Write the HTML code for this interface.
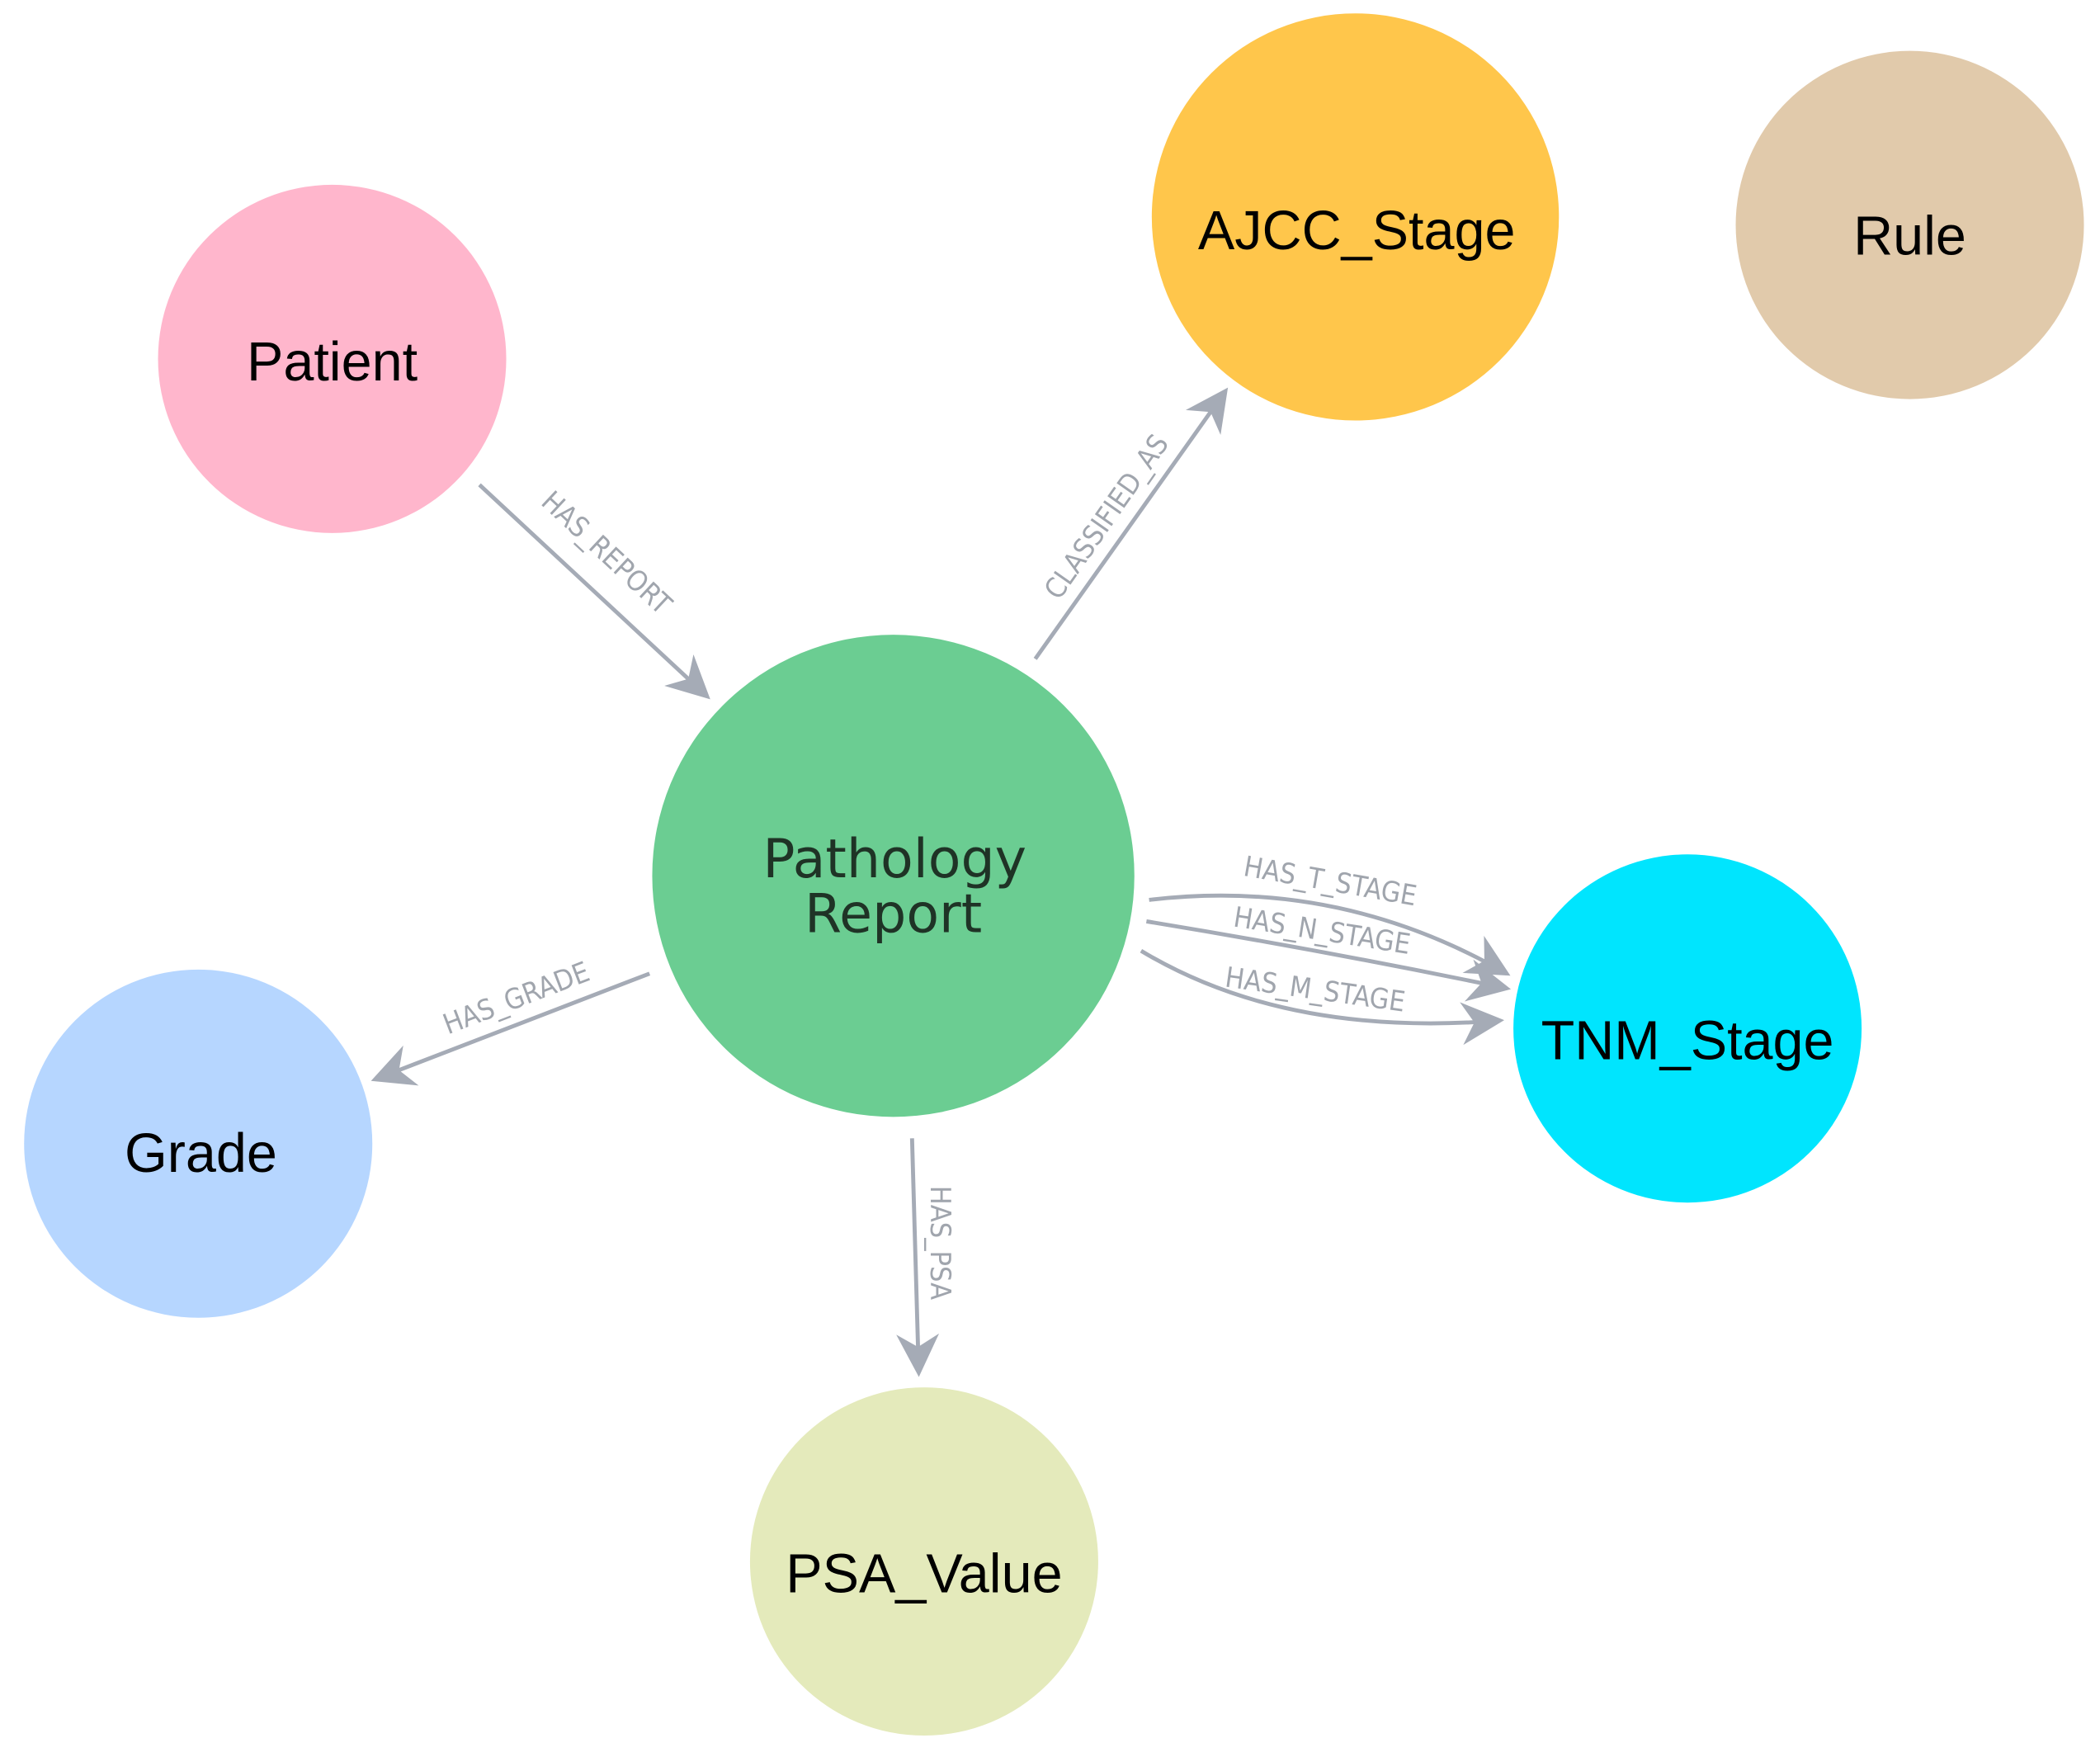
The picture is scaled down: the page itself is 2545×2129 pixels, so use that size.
<!DOCTYPE html>
<html><head><meta charset="utf-8"><style>html,body{margin:0;padding:0;background:#fff}svg{display:block}</style></head>
<body>
<svg width="2545" height="2129" viewBox="0 0 1568 1312" preserveAspectRatio="none" xmlns="http://www.w3.org/2000/svg">
<defs>
<marker id="b" viewBox="0 0 10 10" refX="9" refY="5" markerWidth="32" markerHeight="32" orient="auto" markerUnits="userSpaceOnUse">
<path d="M0,0 L10,5 L0,10 L3,5 z" fill="#a5abb6"/></marker>
</defs>
<g fill="none" stroke="#a5abb6" stroke-width="3">
<line x1="358" y1="362" x2="528" y2="520" marker-end="url(#b)"/>
<line x1="773" y1="492" x2="915" y2="292" marker-end="url(#b)"/>
<line x1="485" y1="727" x2="280" y2="806" marker-end="url(#b)"/>
<line x1="681" y1="850" x2="686" y2="1025" marker-end="url(#b)"/>
<path d="M858,672 Q1000,655 1125,727" marker-end="url(#b)"/>
<path d="M856,688 Q990,710 1125,738" marker-end="url(#b)"/>
<path d="M852,710 Q960,775 1120,762" marker-end="url(#b)"/>
</g>
<g fill="#a0a5ad" font-family="'DejaVu Sans Condensed','DejaVu Sans', sans-serif" font-size="21" text-anchor="middle">
<text transform="translate(448,418) rotate(43)">HAS_REPORT</text>
<text transform="translate(832,390) rotate(-55)">CLASSIFIED_AS</text>
<text transform="translate(388,752) rotate(-21)">HAS_GRADE</text>
<text transform="translate(695,928) rotate(90)">HAS_PSA</text>
<text transform="translate(992,665) rotate(10)">HAS_T_STAGE</text>
<text transform="translate(986,702) rotate(9)">HAS_N_STAGE</text>
<text transform="translate(981,746) rotate(8)">HAS_M_STAGE</text>
</g>
<circle cx="248" cy="268" r="130" fill="#ffb6cc"/>
<circle cx="1012" cy="162" r="152" fill="#ffc64b"/>
<circle cx="1426" cy="168" r="130" fill="#e1caab"/>
<circle cx="667" cy="654" r="180" fill="#6bcd92"/>
<circle cx="1260" cy="768" r="130" fill="#00e5fe"/>
<circle cx="148" cy="854" r="130" fill="#b6d6ff"/>
<circle cx="690" cy="1166" r="130" fill="#e4eabb"/>
<g fill="#000" font-family="'Liberation Sans', sans-serif" font-size="41" text-anchor="middle">
<text x="248" y="284">Patient</text>
<text x="1013" y="186">AJCC_Stage</text>
<text x="1426" y="190">Rule</text>
<text x="1260" y="791">TNM_Stage</text>
<text x="150" y="875">Grade</text>
<text x="690" y="1189">PSA_Value</text>
</g>
<g fill="#1f3326" font-family="'DejaVu Sans', sans-serif" font-size="40" text-anchor="middle">
<text x="668" y="655">Pathology</text>
<text x="667" y="696">Report</text>
</g>
</svg>
</body></html>
